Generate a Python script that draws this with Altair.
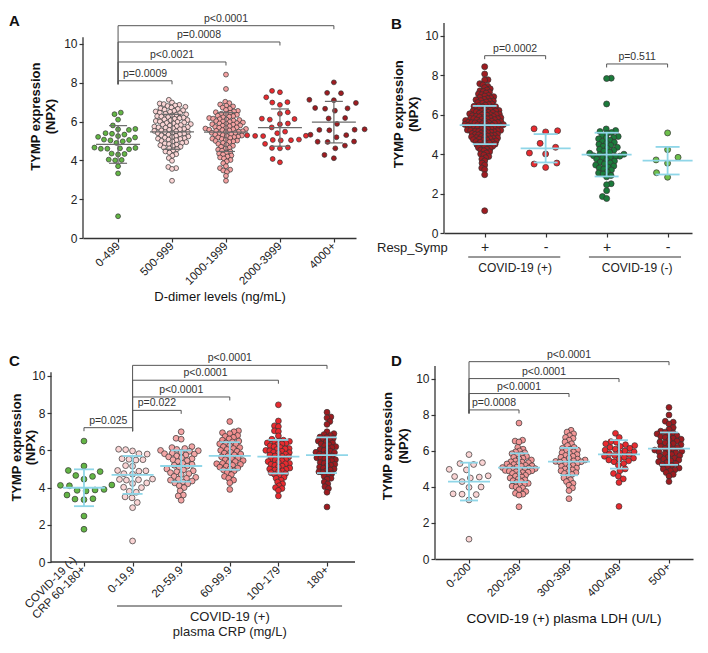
import math
import json
import pandas as pd
import altair as alt

FONT = "Liberation Sans"

# ---------------- Panel A : D-dimer ----------------
A_groups = ["0-499", "500-999", "1000-1999", "2000-3999", "4000+"]
A_colors = ["#63b545", "#fad4d4", "#f4a1a1", "#e92a2f", "#9e1b20"]
A_v0 = [6.46, 6.38, 6.10, 5.80, 5.62, 5.60, 5.57, 5.40, 5.37, 5.33, 5.25, 5.21, 5.18, 5.07, 5.05, 5.03, 4.98,
        4.90, 4.66, 4.64, 4.62, 4.60, 4.60, 4.57, 4.35, 4.33, 4.30, 4.04, 4.02, 4.00, 3.70, 3.33, 1.12]
A_v1 = [7.12, 6.98, 6.93, 6.90, 6.86, 6.83, 6.80, 6.76, 6.72, 6.68, 6.65, 6.61, 6.58, 6.55, 6.52, 6.50, 6.46,
        6.43, 6.40, 6.37, 6.34, 6.31, 6.28, 6.26, 6.23, 6.20, 6.17, 6.14, 6.11, 6.08, 6.06, 6.03, 6.00, 5.98,
        5.95, 5.93, 5.90, 5.87, 5.84, 5.82, 5.79, 5.76, 5.74, 5.72, 5.70, 5.68, 5.65, 5.62, 5.60, 5.57, 5.54,
        5.52, 5.50, 5.47, 5.45, 5.42, 5.40, 5.38, 5.35, 5.32, 5.29, 5.26, 5.23, 5.20, 5.17, 5.14, 5.12, 5.10,
        5.07, 5.04, 5.00, 4.97, 4.94, 4.90, 4.87, 4.84, 4.81, 4.78, 4.74, 4.70, 4.66, 4.62, 4.58, 4.52, 4.46,
        4.40, 4.32, 4.24, 4.12, 3.98, 3.66, 3.60, 3.56, 2.95]
A_v2 = [8.42, 7.68, 7.02, 6.95, 6.88, 6.82, 6.78, 6.72, 6.66, 6.60, 6.55, 6.52, 6.48, 6.45, 6.40, 6.38, 6.35,
        6.30, 6.28, 6.25, 6.22, 6.18, 6.15, 6.12, 6.10, 6.08, 6.05, 6.02, 6.00, 5.98, 5.95, 5.92, 5.90, 5.88,
        5.86, 5.84, 5.80, 5.78, 5.76, 5.72, 5.70, 5.68, 5.66, 5.64, 5.62, 5.60, 5.58, 5.56, 5.54, 5.52, 5.50,
        5.48, 5.45, 5.42, 5.40, 5.38, 5.35, 5.32, 5.30, 5.28, 5.25, 5.22, 5.20, 5.18, 5.15, 5.12, 5.10, 5.05,
        5.02, 5.00, 4.98, 4.95, 4.90, 4.85, 4.80, 4.75, 4.70, 4.65, 4.60, 4.55, 4.50, 4.45, 4.40, 4.35, 4.30,
        4.25, 4.20, 4.15, 4.10, 4.02, 3.95, 3.85, 3.70, 3.60, 3.52, 3.48, 3.40, 3.20, 2.95]
A_v3 = [7.58, 7.51, 7.25, 7.00, 6.98, 6.86, 6.48, 6.40, 6.15, 6.13, 6.10, 5.90, 5.86, 5.70, 5.48, 5.40, 5.29,
        5.27, 5.26, 5.25, 5.07, 5.05, 5.04, 5.03, 4.85, 4.66, 4.64, 4.62, 4.07, 3.90]
A_v4 = [8.02, 7.48, 7.46, 7.12, 7.10, 6.96, 6.70, 6.68, 6.66, 6.56, 6.18, 6.16, 5.88, 5.60, 5.58, 5.57, 5.55,
        5.32, 5.30, 5.19, 4.97, 4.96, 4.95, 4.76, 4.62, 4.28, 4.11]
A_mean = [4.82, 5.47, 5.46, 5.69, 5.97]
A_sd = [0.97, 0.90, 1.00, 0.96, 1.07]
A_p_from = [0, 0, 0, 0]
A_p_to = [1, 2, 3, 4]
A_p_y = [8.10, 9.07, 10.10, 10.94]
A_p_lab = ["p=0.0009", "p<0.0021", "p=0.0008", "p<0.0001"]

# ---------------- Panel B : respiratory symptoms ----------------
B_groups = ["+", "-", "+", "-"]
B_colors = ["#9e1b20", "#e92a2f", "#1b7b3b", "#6dbf4b"]
B_v0 = [8.44, 8.07, 7.78, 7.76, 7.58, 7.52, 7.45, 7.38, 7.32, 7.26, 7.22, 7.18, 7.14, 7.10, 7.06, 7.02, 6.98,
        6.95, 6.92, 6.88, 6.85, 6.82, 6.78, 6.76, 6.72, 6.70, 6.68, 6.65, 6.62, 6.58, 6.55, 6.52, 6.49, 6.46,
        6.43, 6.41, 6.40, 6.38, 6.35, 6.32, 6.30, 6.27, 6.24, 6.22, 6.20, 6.19, 6.17, 6.15, 6.13, 6.11, 6.09,
        6.07, 6.05, 6.03, 6.01, 6.00, 5.99, 5.97, 5.95, 5.93, 5.91, 5.89, 5.87, 5.85, 5.83, 5.81, 5.80, 5.80,
        5.79, 5.77, 5.75, 5.73, 5.71, 5.69, 5.67, 5.65, 5.63, 5.62, 5.61, 5.60, 5.60, 5.59, 5.57, 5.55, 5.53,
        5.51, 5.50, 5.49, 5.47, 5.45, 5.43, 5.42, 5.41, 5.40, 5.39, 5.37, 5.35, 5.33, 5.31, 5.29, 5.27, 5.25,
        5.23, 5.21, 5.20, 5.20, 5.19, 5.17, 5.15, 5.13, 5.11, 5.09, 5.07, 5.05, 5.03, 5.01, 5.00, 4.98, 4.96,
        4.94, 4.92, 4.90, 4.88, 4.86, 4.84, 4.82, 4.80, 4.78, 4.76, 4.74, 4.72, 4.70, 4.67, 4.64, 4.62, 4.60,
        4.57, 4.54, 4.51, 4.48, 4.45, 4.42, 4.40, 4.37, 4.33, 4.29, 4.25, 4.21, 4.17, 4.12, 4.06, 4.01, 3.96,
        3.88, 3.82, 3.75, 3.66, 3.55, 3.45, 3.30, 3.22, 2.96, 1.13]
B_v1 = [5.29, 5.19, 5.13, 4.55, 4.35, 4.06, 4.01, 3.55, 3.50, 3.33]
B_v2 = [7.86, 7.84, 6.55, 5.28, 5.20, 5.15, 5.10, 5.05, 4.95, 4.90, 4.85, 4.82, 4.78, 4.70, 4.65, 4.60, 4.55,
        4.50, 4.45, 4.40, 4.35, 4.30, 4.25, 4.20, 4.15, 4.10, 4.05, 4.00, 3.98, 3.95, 3.92, 3.90, 3.88, 3.85,
        3.80, 3.75, 3.70, 3.65, 3.60, 3.55, 3.50, 3.45, 3.40, 3.35, 3.30, 3.25, 3.20, 3.10, 3.05, 3.00, 2.92,
        2.85, 2.50, 2.45, 2.15, 1.85, 1.75]
B_v3 = [5.08, 4.23, 3.84, 3.71, 3.54, 3.06, 2.83]
B_mean = [5.48, 4.30, 3.98, 3.67]
B_sd = [0.97, 0.72, 1.11, 0.70]
B_p_from = [0, 2]
B_p_to = [1, 3]
B_p_y = [9.00, 8.58]
B_p_lab = ["p=0.0002", "p=0.511"]
B_cohorts = ["COVID-19 (+)", "COVID-19 (-)"]

# ---------------- Panel C : CRP ----------------
C_groups = ["", "0-19.9", "20-59.9", "60-99.9", "100-179", "180+"]
C_first_label = ["COVID-19 (-)", "CRP 60-180+"]
C_colors = ["#63b545", "#fad4d4", "#f4a6a6", "#f08e8e", "#e92a2f", "#9e1b20"]
C_v0 = [6.50, 5.16, 4.92, 4.86, 4.65, 4.60, 4.45, 4.14, 4.12, 4.10, 3.90, 3.87, 3.85, 3.82, 3.60, 3.40, 3.38,
        3.35, 2.47, 1.76]
C_v1 = [6.06, 6.04, 5.97, 5.82, 5.80, 5.55, 5.52, 5.50, 5.48, 5.18, 5.15, 4.92, 4.90, 4.88, 4.75, 4.72, 4.46,
        4.44, 4.42, 4.40, 4.25, 4.22, 4.02, 4.00, 3.80, 3.75, 3.50, 3.45, 3.20, 2.92, 1.13]
C_v2 = [7.00, 6.65, 6.60, 6.20, 6.15, 6.10, 6.05, 6.00, 5.98, 5.95, 5.90, 5.85, 5.82, 5.80, 5.75, 5.70, 5.65,
        5.60, 5.55, 5.50, 5.45, 5.40, 5.30, 5.25, 5.20, 5.15, 5.10, 5.00, 4.95, 4.90, 4.85, 4.80, 4.75, 4.70,
        4.60, 4.55, 4.50, 4.45, 4.40, 4.35, 4.30, 4.25, 4.20, 4.10, 4.00, 3.82, 3.60, 3.55, 3.32]
C_v3 = [7.55, 7.05, 7.00, 6.95, 6.90, 6.80, 6.75, 6.70, 6.62, 6.55, 6.50, 6.45, 6.40, 6.35, 6.30, 6.25, 6.20,
        6.15, 6.10, 6.05, 6.00, 5.95, 5.90, 5.85, 5.80, 5.75, 5.70, 5.65, 5.60, 5.55, 5.50, 5.45, 5.40, 5.35,
        5.30, 5.28, 5.25, 5.20, 5.15, 5.10, 5.05, 5.00, 4.95, 4.90, 4.80, 4.70, 4.60, 4.50, 4.40, 4.26, 3.90]
C_v4 = [8.45, 7.58, 7.32, 7.28, 7.05, 7.02, 6.78, 6.60, 6.55, 6.50, 6.48, 6.45, 6.40, 6.38, 6.35, 6.30, 6.25,
        6.20, 6.15, 6.10, 6.08, 6.05, 6.00, 5.98, 5.95, 5.90, 5.88, 5.85, 5.80, 5.75, 5.70, 5.68, 5.65, 5.60,
        5.55, 5.50, 5.48, 5.45, 5.40, 5.35, 5.30, 5.28, 5.25, 5.20, 5.15, 5.10, 5.05, 5.00, 4.98, 4.95, 4.90,
        4.85, 4.80, 4.75, 4.70, 4.62, 4.55, 4.50, 4.40, 4.30, 4.20, 4.10, 4.00, 3.95, 3.85, 3.55]
C_v5 = [8.05, 7.80, 7.75, 7.55, 7.40, 7.00, 6.90, 6.85, 6.80, 6.72, 6.70, 6.65, 6.60, 6.55, 6.50, 6.45, 6.40,
        6.35, 6.30, 6.25, 6.20, 6.15, 6.10, 6.05, 6.00, 5.95, 5.90, 5.88, 5.85, 5.80, 5.75, 5.70, 5.65, 5.60,
        5.58, 5.55, 5.50, 5.45, 5.40, 5.35, 5.30, 5.25, 5.20, 5.15, 5.10, 5.05, 5.00, 4.95, 4.90, 4.85, 4.80,
        4.75, 4.70, 4.60, 4.50, 4.45, 4.30, 4.20, 4.05, 3.95, 3.75, 2.96]
C_mean = [3.99, 4.68, 5.16, 5.70, 5.66, 5.74]
C_sd = [0.99, 1.02, 0.84, 0.74, 0.90, 0.96]
C_p_from = [0, 1, 1, 1, 1]
C_p_to = [1, 2, 3, 4, 5]
C_p_y = [7.22, 8.15, 8.87, 9.77, 10.57]
C_p_lab = ["p=0.025", "p=0.022", "p<0.0001", "p<0.0001", "p<0.0001"]

# ---------------- Panel D : LDH ----------------
D_groups = ["0-200", "200-299", "300-399", "400-499", "500+"]
D_title = ["COVID-19 (+) plasma", "LDH (U/L)"]
D_colors = ["#fad4d4", "#f29797", "#f29797", "#e92a2f", "#9e1b20"]
D_v0 = [5.80, 5.35, 5.30, 5.25, 4.98, 4.95, 4.62, 4.58, 4.55, 4.50, 4.30, 4.00, 3.98, 3.62, 3.60, 3.58, 3.28, 1.10]
D_v1 = [7.55, 6.60, 6.55, 6.50, 6.20, 6.10, 6.00, 5.95, 5.90, 5.85, 5.80, 5.75, 5.70, 5.65, 5.60, 5.55, 5.50,
        5.45, 5.40, 5.38, 5.35, 5.30, 5.28, 5.25, 5.20, 5.18, 5.15, 5.12, 5.10, 5.08, 5.05, 5.02, 5.00, 4.98,
        4.95, 4.92, 4.90, 4.88, 4.85, 4.82, 4.80, 4.75, 4.70, 4.65, 4.60, 4.55, 4.50, 4.45, 4.40, 4.35, 4.30,
        4.25, 4.20, 4.15, 4.10, 4.05, 4.00, 3.95, 3.85, 3.75, 3.65, 3.60, 3.55, 2.90]
D_v2 = [7.15, 7.05, 6.95, 6.85, 6.75, 6.70, 6.60, 6.50, 6.40, 6.30, 6.20, 6.15, 6.10, 6.05, 6.00, 5.95, 5.90,
        5.85, 5.80, 5.75, 5.70, 5.65, 5.60, 5.55, 5.50, 5.48, 5.45, 5.42, 5.40, 5.38, 5.35, 5.30, 5.25, 5.20,
        5.15, 5.10, 5.05, 5.00, 4.95, 4.90, 4.85, 4.80, 4.75, 4.70, 4.60, 4.50, 4.40, 4.30, 4.20, 4.10, 3.95,
        3.80, 3.35]
D_v3 = [6.98, 6.75, 6.52, 6.48, 6.40, 6.35, 6.30, 6.25, 6.20, 6.15, 6.10, 6.05, 6.00, 5.95, 5.90, 5.85, 5.80,
        5.75, 5.70, 5.65, 5.60, 5.55, 5.50, 5.45, 5.40, 5.30, 5.20, 5.00, 4.90, 4.75, 4.60, 4.45, 4.25, 2.92]
D_v4 = [8.42, 8.00, 7.65, 7.60, 7.50, 7.30, 7.20, 7.10, 7.05, 7.00, 6.95, 6.90, 6.85, 6.80, 6.75, 6.70, 6.65,
        6.60, 6.55, 6.50, 6.45, 6.40, 6.35, 6.30, 6.25, 6.20, 6.15, 6.10, 6.05, 6.00, 5.98, 5.95, 5.90, 5.85,
        5.80, 5.75, 5.70, 5.65, 5.60, 5.55, 5.50, 5.45, 5.40, 5.35, 5.30, 5.25, 5.20, 5.10, 5.05, 5.00, 4.95,
        4.90, 4.80, 4.70, 4.60, 4.30]
D_mean = [4.30, 5.07, 5.41, 5.81, 6.13]
D_sd = [1.05, 0.80, 0.76, 0.79, 0.90]
D_p_from = [0, 0, 0, 0]
D_p_to = [1, 2, 3, 4]
D_p_y = [8.28, 9.19, 10.02, 10.96]
D_p_lab = ["p=0.0008", "p<0.0001", "p<0.0001", "p<0.0001"]

Y_TICKS = [0, 2, 4, 6, 8, 10]
Y_TITLE = ["TYMP expression", "(NPX)"]


def swarm_offsets(vals, d, py):
    """Beeswarm layout: horizontal pixel offsets so that points stay >= d px apart."""
    order = sorted(range(len(vals)), key=lambda i: vals[i])
    placed = []
    out = [0.0] * len(vals)
    for k, i in enumerate(order):
        y = vals[i] * py
        near = [(xj, yj) for xj, yj in placed if abs(y - yj) < d]
        cands = [0.0]
        for xj, yj in near:
            dx = math.sqrt(max(d * d - (y - yj) ** 2, 0.0))
            cands += [xj + dx, xj - dx]
        sgn = 1 if k % 2 == 0 else -1
        cands.sort(key=lambda c: (round(abs(c), 6), -sgn * c))
        x = cands[0]
        for c in cands:
            if all((c - xj) ** 2 + (y - yj) ** 2 >= d * d - 1e-6 for xj, yj in near):
                x = c
                break
        placed.append((x, y))
        out[i] = x
    return out


def panel(values, colors, dists, size, xdom, px, width, height, ymax, axis_top,
          means, sds, mean_hw, cap_hw, line_col, line_w,
          p_from, p_to, p_y, p_lab, xaxis, letter, letter_xy, title_x, extra=None, yoff=0):
    py = height / ymax
    xs = alt.Scale(domain=xdom, nice=False, zero=False)
    ys = alt.Scale(domain=[0, ymax], nice=False, zero=False)
    yaxis = alt.Axis(values=Y_TICKS, title=None, grid=False, domain=False, labelFontSize=12,
                     labelPadding=2, tickSize=4, offset=yoff)

    rows = []
    for i, (vals, col, d) in enumerate(zip(values, colors, dists)):
        for v, o in zip(vals, swarm_offsets(vals, d, py)):
            rows.append({"x": i + o / px, "y": v, "c": col})
    pts = pd.DataFrame(rows)

    ms = pd.DataFrame({
        "x": list(range(len(means))),
        "m": means,
        "lo": [m - s for m, s in zip(means, sds)],
        "hi": [m + s for m, s in zip(means, sds)],
        "xl": [i - mean_hw / px for i in range(len(means))],
        "xr": [i + mean_hw / px for i in range(len(means))],
        "cl": [i - cap_hw / px for i in range(len(means))],
        "cr": [i + cap_hw / px for i in range(len(means))],
    })

    h = 3.5 / py
    ends = {}
    for f, t, y in zip(p_from, p_to, p_y):
        for e in (f, t):
            ends[e] = min(ends.get(e, 99), y)
    br = pd.DataFrame({
        "x1": p_from, "x2": p_to, "yb": p_y, "lab": p_lab,
        "yl": [ends[f] - h for f in p_from],
        "yr": [y - h for y in p_y],
        "xm": [(f + t) / 2 for f, t in zip(p_from, p_to)],
    })

    def X(f):
        return alt.X(f, scale=xs, axis=xaxis)

    def Y(f):
        return alt.Y(f, scale=ys, axis=yaxis)

    layers = [
        alt.Chart(pts).mark_circle(size=size, opacity=1, stroke="#333333", strokeWidth=0.7).encode(
            x=X("x:Q"), y=Y("y:Q"), fill=alt.Fill("c:N", scale=None),
        ),
        alt.Chart(ms).mark_rule(color=line_col, strokeWidth=line_w).encode(x=X("xl:Q"), x2="xr:Q", y=Y("m:Q")),
        alt.Chart(ms).mark_rule(color=line_col, strokeWidth=line_w).encode(x=X("x:Q"), y=Y("lo:Q"), y2="hi:Q"),
        alt.Chart(ms).mark_rule(color=line_col, strokeWidth=line_w).encode(x=X("cl:Q"), x2="cr:Q", y=Y("lo:Q")),
        alt.Chart(ms).mark_rule(color=line_col, strokeWidth=line_w).encode(x=X("cl:Q"), x2="cr:Q", y=Y("hi:Q")),
        alt.Chart(br).mark_rule(color="#555555", strokeWidth=1).encode(x=X("x1:Q"), x2="x2:Q", y=Y("yb:Q")),
        alt.Chart(br).mark_rule(color="#555555", strokeWidth=1).encode(x=X("x1:Q"), y=Y("yb:Q"), y2="yl:Q"),
        alt.Chart(br).mark_rule(color="#555555", strokeWidth=1).encode(x=X("x2:Q"), y=Y("yb:Q"), y2="yr:Q"),
        alt.Chart(br).mark_text(font=FONT, fontSize=10.5, color="#333333", baseline="bottom", dy=-2).encode(
            x=X("xm:Q"), y=Y("yb:Q"), text="lab:N"),
        alt.Chart(pd.DataFrame({"y0": [0], "y1": [axis_top]})).mark_rule(color="#333333", strokeWidth=1.3).encode(
            x=alt.value(-yoff), y=Y("y0:Q"), y2="y1:Q"),
        alt.Chart(pd.DataFrame({"t": [letter]})).mark_text(
            font=FONT, fontSize=15, fontWeight="bold", align="left", baseline="middle", color="#111111").encode(
            text="t:N", x=alt.value(letter_xy[0]), y=alt.value(letter_xy[1])),
    ]
    if yoff:
        # bottom axis line reaching the displaced y axis
        layers.append(alt.Chart(pd.DataFrame({"t": [0]})).mark_rule(color="#333333", strokeWidth=1.3).encode(
            x=alt.value(-yoff), x2=alt.value(width), y=alt.value(height)))
    # two-line y title as rotated text
    for line, tx in zip(Y_TITLE, title_x):
        layers.append(
            alt.Chart(pd.DataFrame({"t": [line]})).mark_text(
                font=FONT, fontSize=13, fontWeight="bold", angle=270, align="center", baseline="middle",
                color="#111111").encode(text="t:N", x=alt.value(tx), y=alt.value(height * 0.47)))
    if extra:
        layers += extra(X, Y, height)
    return alt.layer(*layers).properties(width=width, height=height)


def label_expr(names):
    return json.dumps(names) + "[datum.value]"


AX = dict(grid=False, tickSize=4, labelFontSize=11.5, labelPadding=2)

# ---- A
A_xaxis = alt.Axis(values=list(range(5)), labelExpr=label_expr(A_groups), labelAngle=-45, labelAlign="right",
                   labelBaseline="middle", title="D-dimer levels (ng/mL)", titleFontSize=13,
                   titleFontWeight="normal", titlePadding=4, **AX)
chart_A = panel([A_v0, A_v1, A_v2, A_v3, A_v4], A_colors, [6.5, 4.2, 4.0, 8.0, 10.0], 24,
                [-0.65, 4.41], 54, 273, 229, 11.8, 10.35,
                A_mean, A_sd, 22, 9, "#6b6b6b", 1.2,
                A_p_from, A_p_to, A_p_y, A_p_lab, A_xaxis, "A", (-74, 12), (-47, -32))

# ---- B


def B_extra(X, Y, height):
    txt = pd.DataFrame({"t": ["Resp_Symp"]})
    und = pd.DataFrame({"a": [-0.27, 1.71], "b": [1.24, 3.22], "m": [0.5, 2.5], "t": B_cohorts})
    return [
        alt.Chart(txt).mark_text(font=FONT, fontSize=13, align="left", baseline="middle", color="#222222").encode(
            text="t:N", x=alt.value(-67), y=alt.value(height + 15)),
        alt.Chart(und).mark_rule(color="#333333", strokeWidth=1).encode(
            x=X("a:Q"), x2="b:Q", y=alt.value(height + 24)),
        alt.Chart(und).mark_text(font=FONT, fontSize=12, baseline="middle", color="#222222").encode(
            x=X("m:Q"), y=alt.value(height + 35), text="t:N"),
    ]


B_xaxis = alt.Axis(values=list(range(4)), labelExpr=label_expr(B_groups), labelAngle=0, labelFontSize=14,
                   labelPadding=3, title=None, grid=False, tickSize=4)
chart_B = panel([B_v0, B_v1, B_v2, B_v3], B_colors, [3.3, 12.0, 4.6, 12.0], 36,
                [-0.667, 3.40], 61, 248, 224, 11.37, 10.66,
                B_mean, B_sd, 25, 12, "#8fd6e8", 1.8,
                B_p_from, B_p_to, B_p_y, B_p_lab, B_xaxis, "B", (-53, 15), (-45, -30), B_extra)

# ---- C  (plot origin aligned with A's; y axis displaced 32 px to the left)


def C_extra(X, Y, height):
    und = pd.DataFrame({"a": [0.68], "b": [5.31]})
    t1 = pd.DataFrame({"m": [3.0], "t": ["COVID-19 (+)"]})
    t2 = pd.DataFrame({"m": [3.0], "t": ["plasma CRP (mg/L)"]})
    l1 = pd.DataFrame({"m": [0], "t": [C_first_label[0]]})
    l2 = pd.DataFrame({"m": [0], "t": [C_first_label[1]]})
    ly = height + 6
    return [
        alt.Chart(und).mark_rule(color="#333333", strokeWidth=1).encode(
            x=X("a:Q"), x2="b:Q", y=alt.value(height + 44)),
        alt.Chart(t1).mark_text(font=FONT, fontSize=13, baseline="middle", color="#222222").encode(
            x=X("m:Q"), y=alt.value(height + 55), text="t:N"),
        alt.Chart(t2).mark_text(font=FONT, fontSize=13, baseline="middle", color="#222222").encode(
            x=X("m:Q"), y=alt.value(height + 70), text="t:N"),
        alt.Chart(l1).mark_text(font=FONT, fontSize=11.5, angle=315, align="right", baseline="middle",
                                color="#222222", xOffset=-9, yOffset=-9).encode(
            x=X("m:Q"), y=alt.value(ly), text="t:N"),
        alt.Chart(l2).mark_text(font=FONT, fontSize=11.5, angle=315, align="right", baseline="middle",
                                color="#222222").encode(
            x=X("m:Q"), y=alt.value(ly), text="t:N"),
    ]


C_xaxis = alt.Axis(values=list(range(6)), labelExpr=label_expr(C_groups), labelAngle=-45, labelAlign="right",
                   labelBaseline="middle", title=None, domain=False, **AX)
chart_C = panel([C_v0, C_v1, C_v2, C_v3, C_v4, C_v5], C_colors, [9.0, 7.0, 5.2, 4.6, 4.0, 4.0], 34,
                [-0.02, 5.576], 48.6, 272, 216, 11.61, 10.2,
                C_mean, C_sd, 21, 10, "#8fd6e8", 1.8,
                C_p_from, C_p_to, C_p_y, C_p_lab, C_xaxis, "C", (-74, 15), (-66, -52), C_extra, yoff=32)

# ---- D


def D_extra(X, Y, height):
    p1 = pd.DataFrame({"t": [D_title[0]]})
    p2 = pd.DataFrame({"t": [D_title[1]]})
    return [
        alt.Chart(p1).mark_text(font=FONT, fontSize=13.5, align="left", baseline="middle", color="#111111").encode(
            text="t:N", x=alt.value(31.6), y=alt.value(height + 60)),
        alt.Chart(p2).mark_text(font=FONT, fontSize=13.5, align="right", baseline="middle", color="#111111").encode(
            text="t:N", x=alt.value(226.4), y=alt.value(height + 60)),
    ]


D_xaxis = alt.Axis(values=list(range(5)), labelExpr=label_expr(D_groups), labelAngle=-45, labelAlign="right",
                   labelBaseline="middle", title=None, **AX)
chart_D = panel([D_v0, D_v1, D_v2, D_v3, D_v4], D_colors, [9.0, 4.0, 4.4, 5.6, 4.6], 34,
                [-0.68, 4.48], 50, 258, 213, 11.83, 10.72,
                D_mean, D_sd, 21, 9, "#8fd6e8", 1.8,
                D_p_from, D_p_to, D_p_y, D_p_lab, D_xaxis, "D", (-44, 15), (-47, -31), D_extra)

chart = alt.vconcat(
    alt.hconcat(chart_A, chart_B, spacing=7),
    alt.hconcat(chart_C, chart_D, spacing=24),
    spacing=40,
    padding=0,
    background="white",
).configure_view(stroke="transparent").configure_axis(
    labelFont=FONT, titleFont=FONT, labelColor="#222222", titleColor="#111111",
    tickColor="#333333", domainColor="#333333", domainWidth=1.3, tickWidth=1.2,
)

chart.save("out.html", embed_options={"renderer": "svg", "actions": False})
